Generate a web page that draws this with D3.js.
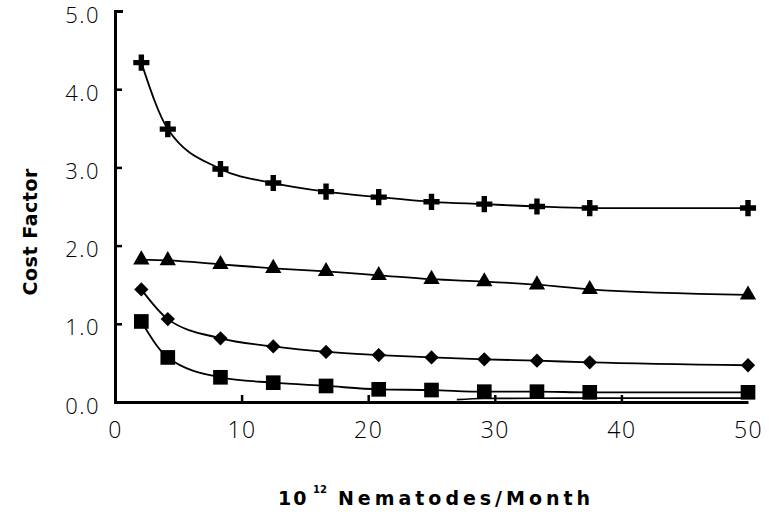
<!DOCTYPE html>
<html>
<head>
<meta charset="utf-8">
<script src="https://cdn.jsdelivr.net/npm/d3@7"></script>
<style>
  html, body { margin: 0; padding: 0; background: #fff; }
  svg { display: block; }
</style>
</head>
<body>
<svg id="chart" width="769" height="520"></svg>
<script>
// ---- data ----
const xValues = [2.08, 4.17, 8.33, 12.5, 16.67, 20.83, 25, 29.17, 33.33, 37.5, 50];
const crossSeries    = [4.34, 3.49, 2.98, 2.80, 2.69, 2.62, 2.56, 2.53, 2.50, 2.48, 2.48];
const triangleSeries = [1.82, 1.81, 1.76, 1.71, 1.67, 1.62, 1.57, 1.54, 1.50, 1.44, 1.37];
const diamondSeries  = [1.44, 1.06, 0.815, 0.71, 0.64, 0.60, 0.57, 0.546, 0.528, 0.507, 0.47];
const squareSeries   = [1.03, 0.57, 0.316, 0.247, 0.205, 0.162, 0.153, 0.132, 0.132, 0.124, 0.124];
const baseLineX = [27, 29.17, 33.33, 37.5, 50];
const baseLineY = [0.03, 0.045, 0.048, 0.05, 0.05];
const xTicks = [0, 10, 20, 30, 40, 50];
const yTicks = [0, 1, 2, 3, 4, 5];
const xTitle = "Nematodes/Month";
const xTitleBase = "10";
const xTitleExp = "12";
const yTitle = "Cost  Factor";

// ---- drawing ----
const svg = d3.select("#chart");
const x = d3.scaleLinear().domain([0, 50]).range([115, 748]);
const y = d3.scaleLinear().domain([0, 5]).range([402, 11]);

const tickFont = "'Open Sans', Lato, sans-serif";
const boldFont = "'DejaVu Sans', 'Liberation Sans', Arial, sans-serif";

// y axis
const yAxis = svg.append("g").attr("transform", `translate(${x(0)},0)`)
  .call(d3.axisLeft(y).tickValues(yTicks).tickSizeInner(-7).tickSizeOuter(-8)
        .tickPadding(15).tickFormat(d3.format(".1f")));
yAxis.select(".domain").attr("stroke", "#000").attr("stroke-width", 3);
yAxis.selectAll(".tick line").attr("stroke", "#000").attr("stroke-width", 2.5);
yAxis.selectAll(".tick text")
  .attr("font-family", tickFont).attr("font-weight", 300)
  .attr("font-size", 22).attr("letter-spacing", 1.5).attr("fill", "#000").attr("dy", "0.5em");

// x axis
const xAxis = svg.append("g").attr("transform", `translate(0,${y(0)})`)
  .call(d3.axisBottom(x).tickValues(xTicks).tickSizeInner(-7).tickSizeOuter(0)
        .tickPadding(20).tickFormat(d3.format("d")));
xAxis.select(".domain").attr("stroke", "#000").attr("stroke-width", 3);
xAxis.selectAll(".tick line").attr("stroke", "#000").attr("stroke-width", 2.5)
  .attr("display", d => (d === 0 || d === 50) ? "none" : null);
xAxis.selectAll(".tick text")
  .attr("font-family", tickFont).attr("font-weight", 300)
  .attr("font-size", 23).attr("letter-spacing", 1.5).attr("fill", "#000").attr("y", 28).attr("dy", "0.35em");

// lines
const line = d3.line().x(d => x(d[0])).y(d => y(d[1])).curve(d3.curveMonotoneX);
const series = [
  { vals: crossSeries,    symbol: d3.symbolCross,    size: 145 },
  { vals: triangleSeries, symbol: d3.symbolTriangle, size: 115 },
  { vals: diamondSeries,  symbol: d3.symbolDiamond2, size: 130 },
  { vals: squareSeries,   symbol: d3.symbolSquare,   size: 215 }
];

svg.append("path")
  .datum(baseLineX.map((v, i) => [v, baseLineY[i]]))
  .attr("d", line).attr("fill", "none").attr("stroke", "#000").attr("stroke-width", 1.6);

series.forEach(s => {
  const pts = xValues.map((v, i) => [v, s.vals[i]]);
  svg.append("path").datum(pts).attr("d", line)
    .attr("fill", "none").attr("stroke", "#000").attr("stroke-width", 1.8);
  svg.append("g").selectAll("path").data(pts).join("path")
    .attr("transform", d => `translate(${x(d[0])},${y(d[1])})`)
    .attr("d", d3.symbol().type(s.symbol).size(s.size))
    .attr("fill", "#000");
});

// titles
svg.append("text")
  .attr("transform", "translate(37,232) rotate(-90)")
  .attr("text-anchor", "middle")
  .attr("font-family", boldFont).attr("font-weight", "bold").attr("font-size", 19)
  .attr("textLength", 127).attr("lengthAdjust", "spacing")
  .text(yTitle);

svg.append("text")
  .attr("x", 278).attr("y", 505)
  .attr("font-family", boldFont).attr("font-weight", "bold").attr("font-size", 19)
  .attr("letter-spacing", 2)
  .text(xTitleBase);
svg.append("text")
  .attr("x", 313).attr("y", 493)
  .attr("font-family", boldFont).attr("font-weight", "bold").attr("font-size", 10)
  .text(xTitleExp);
svg.append("text")
  .attr("x", 338).attr("y", 505)
  .attr("font-family", boldFont).attr("font-weight", "bold").attr("font-size", 19)
  .attr("textLength", 252).attr("lengthAdjust", "spacing")
  .text(xTitle);
</script>
</body>
</html>
